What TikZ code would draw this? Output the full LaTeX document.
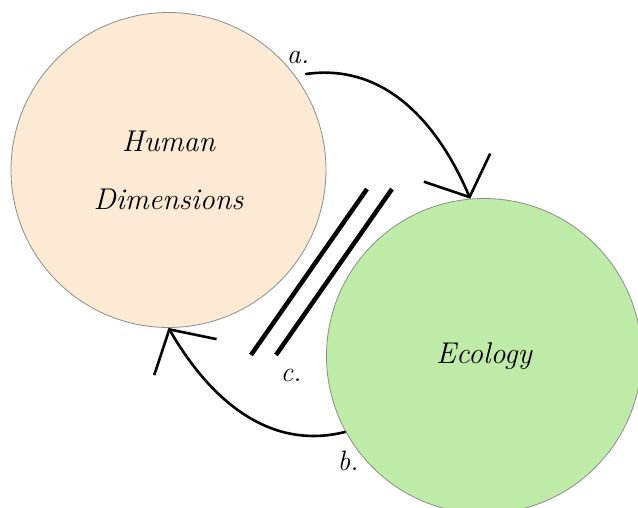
\documentclass[tikz,border=0pt]{standalone}
\usepackage{fontspec}
\setmainfont{Latin Modern Roman}
\usetikzlibrary{arrows.meta}

\definecolor{peach}{HTML}{FCEAD5}
\definecolor{leaf}{HTML}{BFEBA9}
\definecolor{rim}{HTML}{8C8C8C}

\begin{document}
\begin{tikzpicture}[x=1pt, y=-1pt,
        sphere/.style={circle, draw=rim, line width=0.8pt, minimum size=315pt,
                inner sep=0pt, align=center, font=\fontsize{30}{58}\selectfont\itshape},
        tag/.style={font=\fontsize{28}{30}\selectfont\itshape},
        link/.style={line width=2.6pt, line cap=round,
                -{Straight Barb[length=32pt, width=72pt, line width=2.6pt]}}]

        % ===============================
        % Marco de la figura
        % ===============================
        \useasboundingbox (0,0) rectangle (638,508);
        \clip (0,0) rectangle (638,508);

        % ===============================
        % Dominios
        % ===============================
        \node[sphere, fill=peach] (human) at (168.5,170) {Human\\Dimensions};
        \node[sphere, fill=leaf] (ecology) at (484,356) {Ecology};

        % ===============================
        % Relaciones
        % ===============================
        \coordinate (astart) at (306,74);
        \coordinate (bstart) at (345,432);
        \draw[link] (astart) to[out=8, in=113] (ecology.95);
        \draw[link] (bstart) to[out=194, in=-60] (human.270);

        % Separación (c.)
        \draw[line width=4.5pt] (367,189) -- (251,355);
        \draw[line width=4.5pt] (392,189) -- (276,355);

        % Etiquetas
        \node[tag] (la) at (298,57) {a.};
        \node[tag] (lb) at (348,461) {b.};
        \node[tag] (lc) at (291,375) {c.};

\end{tikzpicture}
\end{document}
